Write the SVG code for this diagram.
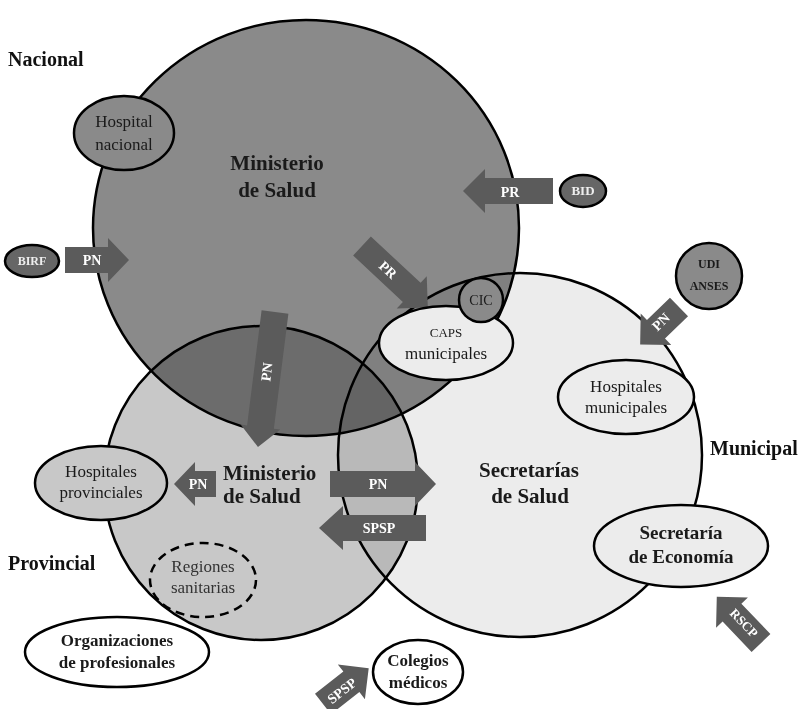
<svg xmlns="http://www.w3.org/2000/svg" width="806" height="709" viewBox="0 0 806 709">
<style>
.t{font-family:"Liberation Serif","DejaVu Serif",serif;fill:#1a1a1a;text-anchor:middle}
.b{font-weight:bold}
.area{stroke:#000;stroke-width:2.5;mix-blend-mode:multiply}
.node{stroke:#000;stroke-width:2.5}
.arr{fill:#5b5b5b}
.al{font-family:"Liberation Serif","DejaVu Serif",serif;font-weight:bold;fill:#fff;font-size:14px;text-anchor:middle;dominant-baseline:central}
.lvl{font-family:"Liberation Serif","DejaVu Serif",serif;font-size:20px;font-weight:bold;fill:#111}
</style>
<rect width="806" height="709" fill="#fff"/>
<g id="areas">
  <ellipse id="area-nacional" class="area" cx="306" cy="228" rx="213" ry="208" fill="#8a8a8a"/>
  <ellipse id="area-provincial" class="area" cx="261" cy="483" rx="157" ry="157" fill="#c8c8c8"/>
  <ellipse id="area-municipal" class="area" cx="520" cy="455" rx="182" ry="182" fill="#ececec"/>
</g>
<g id="levels">
  <text class="lvl" x="8" y="66">Nacional</text>
  <text class="lvl" x="8" y="570">Provincial</text>
  <text class="lvl" x="710" y="455">Municipal</text>
</g>
<g id="ministerio-nacional">
  <text class="t b" font-size="21" x="277" y="170">Ministerio</text>
  <text class="t b" font-size="21" x="277" y="197">de Salud</text>
</g>
<g id="ministerio-provincial">
  <text class="t b" font-size="21" x="223" y="480" style="text-anchor:start">Ministerio</text>
  <text class="t b" font-size="21" x="223" y="503" style="text-anchor:start">de Salud</text>
</g>
<g id="secretarias-salud">
  <text class="t b" font-size="21" x="529" y="477">Secretarías</text>
  <text class="t b" font-size="21" x="530" y="503">de Salud</text>
</g>
<g id="connectors">
  <path class="arr" transform="translate(65,260)" d="M0,-13H43V-22L64,0L43,22V13H0Z"/>
  <path class="arr" transform="translate(553,191) rotate(180)" d="M0,-13H68V-22L90,0L68,22V13H0Z"/>
  <path class="arr" transform="translate(362,246) rotate(43)" d="M0,-13H68V-22L90,0L68,22V13H0Z"/>
  <path class="arr" transform="translate(275,312) rotate(97.2)" d="M0,-13.5H116V-20L136,0L116,20V13.5H0Z"/>
  <path class="arr" transform="translate(679,307) rotate(136)" d="M0,-13H32V-22L54,0L32,22V13H0Z"/>
  <path class="arr" transform="translate(216,484) rotate(180)" d="M0,-13H21V-22L42,0L21,22V13H0Z"/>
  <path class="arr" transform="translate(330,484)" d="M0,-13H85V-22L106,0L85,22V13H0Z"/>
  <path class="arr" transform="translate(426,528) rotate(180)" d="M0,-13H83V-22L107,0L83,22V13H0Z"/>
  <path class="arr" transform="translate(323,704) rotate(-38)" d="M0,-13H36V-22L58,0L36,22V13H0Z"/>
  <path class="arr" transform="translate(761,643) rotate(-133.7)" d="M0,-13H42V-22L64,0L42,22V13H0Z"/>
  <text class="al" transform="translate(92,260)">PN</text>
  <text class="al" transform="translate(510,192)">PR</text>
  <text class="al" transform="translate(388,270) rotate(43)">PR</text>
  <text class="al" transform="translate(267,372) rotate(-83)">PN</text>
  <text class="al" transform="translate(661,322) rotate(-44)">PN</text>
  <text class="al" transform="translate(198,484)">PN</text>
  <text class="al" transform="translate(378,484)">PN</text>
  <text class="al" transform="translate(379,528)">SPSP</text>
  <text class="al" transform="translate(342,691) rotate(-38)">SPSP</text>
  <text class="al" transform="translate(744,623) rotate(46.3)" style="font-size:13px">RSCP</text>
</g>
<g id="hospital-nacional">
  <ellipse class="node" cx="124" cy="133" rx="50" ry="37" fill="#8a8a8a"/>
  <text class="t" font-size="17" x="124" y="127">Hospital</text>
  <text class="t" font-size="17" x="124" y="150">nacional</text>
</g>
<g id="birf">
  <ellipse class="node" cx="32" cy="261" rx="27" ry="16" fill="#666"/>
  <text class="t b" font-size="12" x="32" y="265" style="fill:#eee">BIRF</text>
</g>
<g id="bid">
  <ellipse class="node" cx="583" cy="191" rx="23" ry="16" fill="#666"/>
  <text class="t b" font-size="13" x="583" y="195" style="fill:#eee">BID</text>
</g>
<g id="udi-anses">
  <circle class="node" cx="709" cy="276" r="33" fill="#8a8a8a"/>
  <text class="t b" font-size="12" x="709" y="268">UDI</text>
  <text class="t b" font-size="12" x="709" y="290">ANSES</text>
</g>
<g id="caps-municipales">
  <ellipse class="node" cx="446" cy="343" rx="67" ry="37" fill="#ececec"/>
  <text class="t" font-size="13" x="446" y="337">CAPS</text>
  <text class="t" font-size="17" x="446" y="359">municipales</text>
</g>
<g id="cic">
  <circle class="node" cx="481" cy="300" r="22" fill="#8a8a8a"/>
  <text class="t" font-size="14" x="481" y="305">CIC</text>
</g>
<g id="hospitales-municipales">
  <ellipse class="node" cx="626" cy="397" rx="68" ry="37" fill="#ececec"/>
  <text class="t" font-size="17" x="626" y="392">Hospitales</text>
  <text class="t" font-size="17" x="626" y="413">municipales</text>
</g>
<g id="hospitales-provinciales">
  <ellipse class="node" cx="101" cy="483" rx="66" ry="37" fill="#c8c8c8"/>
  <text class="t" font-size="17" x="101" y="477">Hospitales</text>
  <text class="t" font-size="17" x="101" y="498">provinciales</text>
</g>
<g id="regiones-sanitarias">
  <ellipse cx="203" cy="580" rx="53" ry="37" fill="none" stroke="#000" stroke-width="2.5" stroke-dasharray="9,6"/>
  <text class="t" font-size="17" x="203" y="572" style="fill:#333">Regiones</text>
  <text class="t" font-size="17" x="203" y="593" style="fill:#333">sanitarias</text>
</g>
<g id="secretaria-economia">
  <ellipse class="node" cx="681" cy="546" rx="87" ry="41" fill="#ececec"/>
  <text class="t b" font-size="19" x="681" y="539">Secretaría</text>
  <text class="t b" font-size="19" x="681" y="563">de Economía</text>
</g>
<g id="organizaciones-profesionales">
  <ellipse class="node" cx="117" cy="652" rx="92" ry="35" fill="#fff"/>
  <text class="t b" font-size="17" x="117" y="646">Organizaciones</text>
  <text class="t b" font-size="17" x="117" y="668">de profesionales</text>
</g>
<g id="colegios-medicos">
  <ellipse class="node" cx="418" cy="672" rx="45" ry="32" fill="#fff"/>
  <text class="t b" font-size="17" x="418" y="666">Colegios</text>
  <text class="t b" font-size="17" x="418" y="688">médicos</text>
</g>
</svg>
